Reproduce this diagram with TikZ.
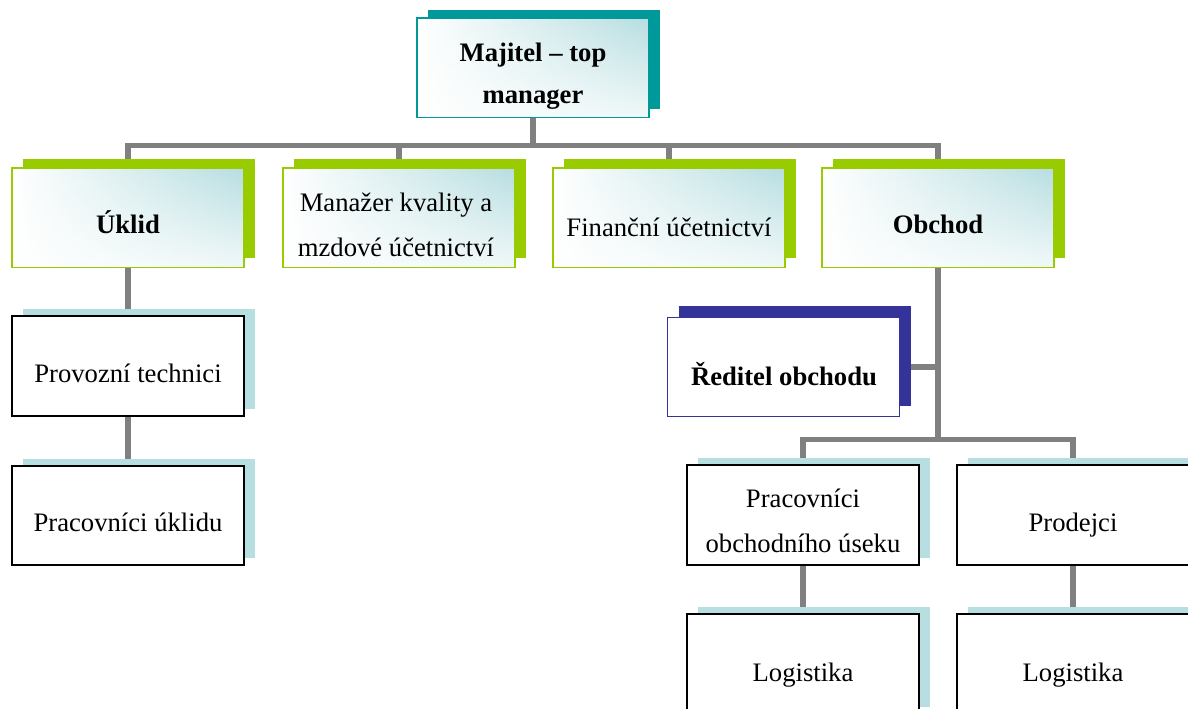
\documentclass[tikz,border=0pt]{standalone}
\usepackage{fontspec}
\setmainfont{Liberation Serif}
\usetikzlibrary{calc, positioning, shadows, fadings, backgrounds}

\definecolor{shadeteal}{RGB}{0,153,153}
\definecolor{leafgreen}{RGB}{153,204,0}
\definecolor{inkblue}{RGB}{51,51,153}
\definecolor{paleteal}{RGB}{183,222,225}
\definecolor{linkgray}{RGB}{128,128,128}

\begin{document}
\begin{tikzpicture}[x=0.75pt, y=-0.75pt,
    box/.style={minimum width=174pt, minimum height=74.6pt, inner sep=0pt},
    glow/.style={box, left color=white, right color=paleteal,
                 postaction={fill=white, path fading=north, fill opacity=0.8},
                 postaction={draw=#1, line width=1.1pt}},
    plainbox/.style={box, fill=white, draw=black, line width=1.2pt,
                 drop shadow={shadow xshift=8.25pt, shadow yshift=5.25pt,
                              fill=paleteal, opacity=1}},
    greenshadow/.style={drop shadow={shadow xshift=8.25pt, shadow yshift=6.75pt,
                              fill=leafgreen, opacity=1}},
    link/.style={draw=linkgray, line width=4pt},
    lbl/.style={font=\fontsize{20}{33.5}\selectfont, align=center, inner sep=0pt},
    lblb/.style={font=\fontsize{20}{33.5}\selectfont\bfseries, align=center, inner sep=0pt}
  ]
    \path[use as bounding box] (0,0) rectangle (1188,708);
    \clip (0,0) rectangle (1188,708);

    % Top
    \node[glow=shadeteal, drop shadow={shadow xshift=8.25pt, shadow yshift=6pt,
          fill=shadeteal, opacity=1}] (owner) at (533,67.5) {};
    \node[lblb, font=\fontsize{20}{31.5}\selectfont\bfseries] (t-owner) at (533,76)
      {Majitel – top\\manager};

    % Second row
    \node[glow=leafgreen, greenshadow] (uklid)    at (128,217.5) {};
    \node[glow=leafgreen, greenshadow] (manazer)  at (399,217.5) {};
    \node[glow=leafgreen, greenshadow] (financni) at (669,217.5) {};
    \node[glow=leafgreen, greenshadow] (obchod)   at (938,217.5) {};
    \node[lblb, anchor=base] (t-uklid)    at (128,233) {Úklid};
    \node[lbl]               (t-manazer)  at (396,225) {Manažer kvality a\\mzdové účetnictví};
    \node[lbl, anchor=base]  (t-financni) at (669,236) {Finanční účetnictví};
    \node[lblb, anchor=base] (t-obchod)   at (938,233) {Obchod};

    % Cleaning branch
    \node[plainbox] (provozni)  at (128,366) {};
    \node[plainbox] (pracuklid) at (128,515.5) {};
    \node[lbl, anchor=base] (t-provozni)  at (128,382) {Provozní technici};
    \node[lbl, anchor=base] (t-pracuklid) at (128,531) {Pracovníci úklidu};

    % Sales branch
    \node[box, fill=white, draw=inkblue, line width=1.1pt,
          drop shadow={shadow xshift=8.6pt, shadow yshift=8.25pt, fill=inkblue, opacity=1}]
          (reditel) at (783.5,367) {};
    \node[lblb, anchor=base] (t-reditel) at (784,385) {Ředitel obchodu};
    \node[plainbox] (pob)      at (803,515) {};
    \node[plainbox] (prodejci) at (1073,515) {};
    \node[plainbox] (logist1)  at (803,664) {};
    \node[plainbox] (logist2)  at (1073,664) {};
    \node[lbl]              (t-pob)      at (803,521)  {Pracovníci\\obchodního úseku};
    \node[lbl, anchor=base] (t-prodejci) at (1073,531) {Prodejci};
    \node[lbl, anchor=base] (t-log1)     at (803,681)  {Logistika};
    \node[lbl, anchor=base] (t-log2)     at (1073,681) {Logistika};

    % Connectors
    \begin{scope}[on background layer]
      \foreach \n in {uklid, manazer, financni, obchod}
        \draw[link] (owner.south) |- ($(\n.north)+(0,-22)$) -- (\n.north);
      \draw[link] (uklid.south) -- (provozni.north);
      \draw[link] (provozni.south) -- (pracuklid.north);
      \draw[link] (obchod.south) |- (reditel.east);
      \foreach \n in {pob, prodejci}
        \draw[link] (obchod.south) |- ($(\n.north)+(0,-25)$) -- (\n.north);
      \draw[link] (pob.south) -- (logist1.north);
      \draw[link] (prodejci.south) -- (logist2.north);
    \end{scope}
  \end{tikzpicture}
\end{document}
